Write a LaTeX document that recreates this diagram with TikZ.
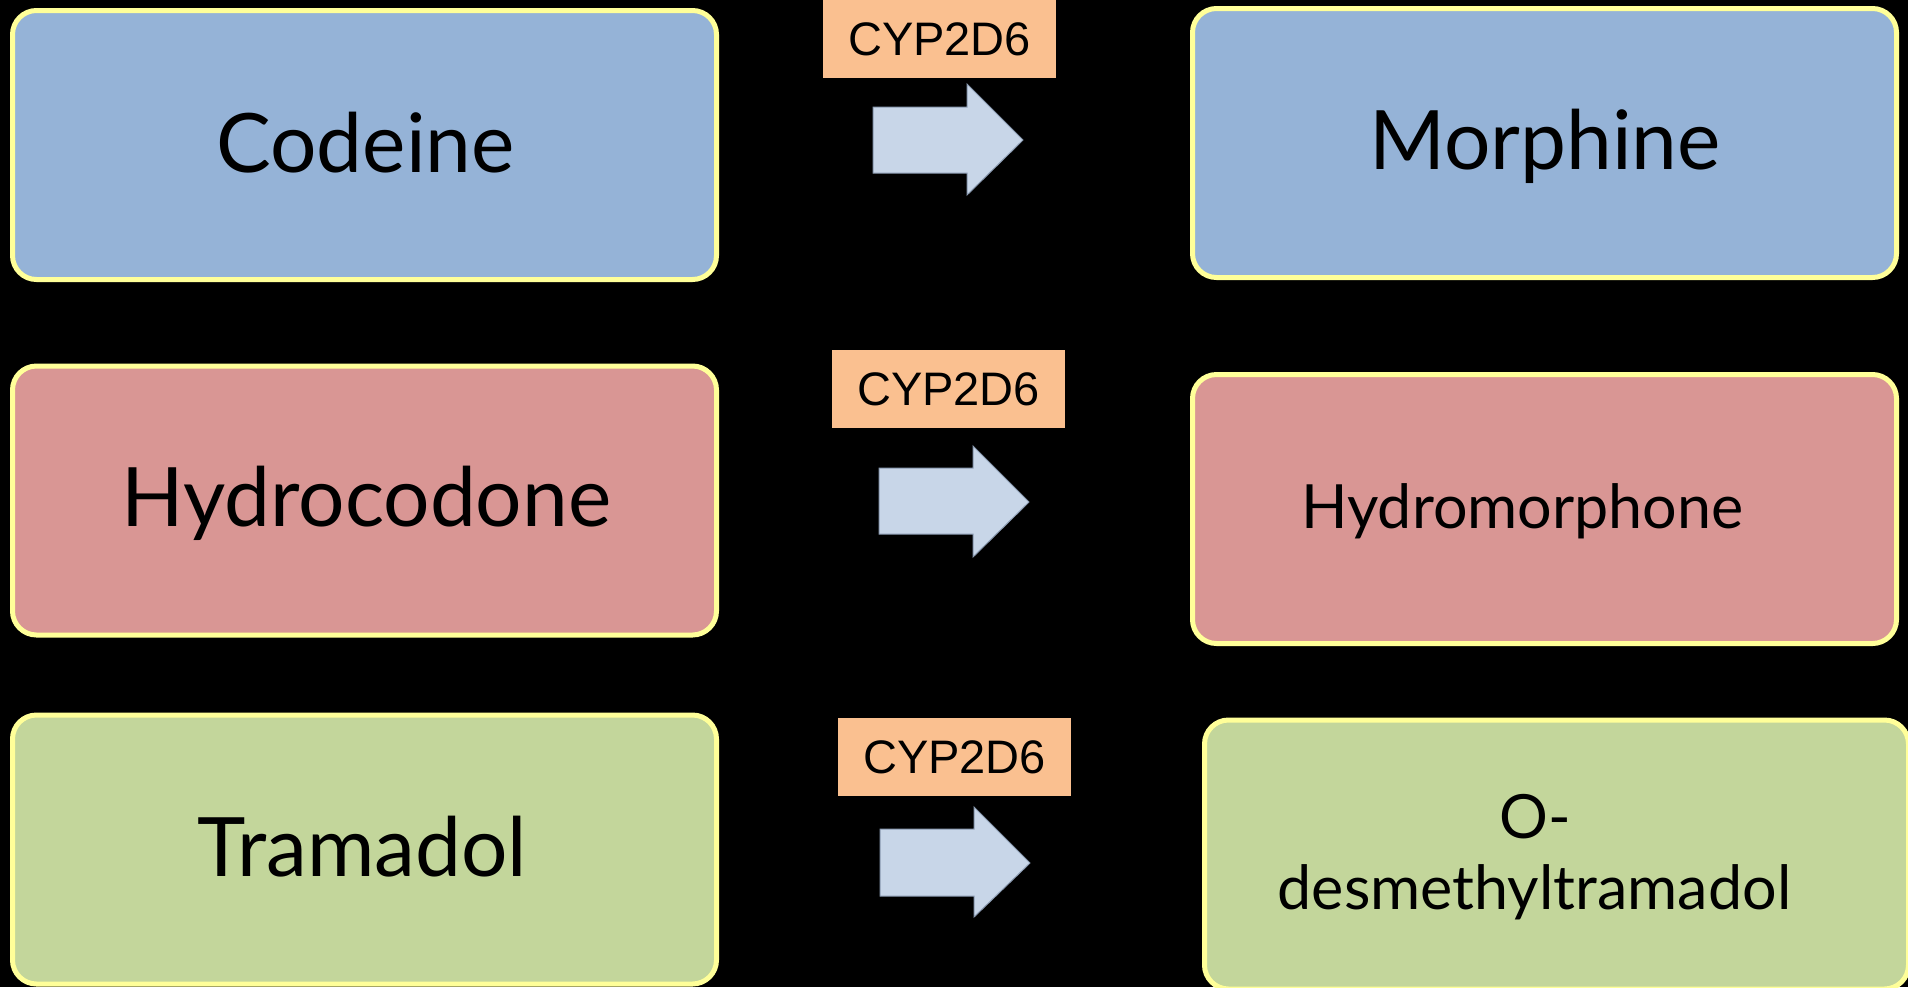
\documentclass[tikz,border=0pt]{standalone}
\usepackage{fontspec}
\setmainfont{Lato}
\newfontfamily\arialfont{Liberation Sans}
\usetikzlibrary{calc}
\definecolor{boxblue}{HTML}{95B3D7}
\definecolor{boxred}{HTML}{D99694}
\definecolor{boxgreen}{HTML}{C3D69B}
\definecolor{boxborder}{HTML}{FFFF99}
\definecolor{cyporange}{HTML}{FAC090}
\definecolor{arrowfill}{HTML}{C8D6E8}
\definecolor{arrowline}{HTML}{8A9AB0}
\newcommand{\bigfont}{\fontsize{41}{49}\selectfont}
\newcommand{\midfont}{\fontsize{30.5}{35.5}\selectfont}
\newcommand{\cypfont}{\arialfont\fontsize{23.5}{28}\selectfont}
\begin{document}
\begin{tikzpicture}[x=0.5pt,y=-0.5pt,
  drugbox/.style={draw=boxborder, line width=2.5pt, rounded corners=12pt,
    minimum width=352pt, minimum height=134.5pt, inner sep=0pt},
  druglabel/.style={anchor=base, inner sep=0pt, text=black},
  cypbox/.style={fill=cyporange, minimum width=116.5pt, minimum height=39pt,
    inner sep=0pt, font=\cypfont, text height=16.8pt, text depth=0pt},
  blockarrow/.style={fill=arrowfill, draw=arrowline, line width=0.5pt}]
\useasboundingbox (0,0) rectangle (1908,987);
\clip (0,0) rectangle (1908,987);
\fill[black] (0,0) rectangle (1908,987);

% source boxes
\node[drugbox, fill=boxblue]  (codeine)     at (364.5,145)   {};
\node[drugbox, fill=boxred]   (hydrocodone) at (364.5,500.5) {};
\node[drugbox, fill=boxgreen] (tramadol)    at (364.5,849.5) {};
% product boxes
\node[drugbox, fill=boxblue]  (morphine)    at (1544.5,143)  {};
\node[drugbox, fill=boxred]   (hydromorph)  at (1544.5,509)  {};
\node[drugbox, fill=boxgreen] (odesmethyl)  at (1556.5,854.5) {};

% labels
\node[druglabel, font=\bigfont] (codeineT)     at (365.5,172)  {Codeine};
\node[druglabel, font=\bigfont] (hydrocodoneT) at (366.5,526)  {Hydrocodone};
\node[druglabel, font=\bigfont] (tramadolT)    at (362.5,876)  {Tramadol};
\node[druglabel, font=\bigfont] (morphineT)    at (1545,169)   {Morphine};
\node[druglabel, font=\midfont] (hydromorphT)  at (1522.5,528) {Hydromorphone};
\node[druglabel, font=\midfont] (odesT1)       at (1535.5,838) {O-};
\node[druglabel, font=\midfont] (odesT2)       at (1534.5,909) {desmethyltramadol};

% enzyme labels
\node[cypbox] (cyp1) at (939.5,38.5) {CYP2D6};
\node[cypbox] (cyp2) at (948.5,389)  {CYP2D6};
\node[cypbox] (cyp3) at (954.5,757)  {CYP2D6};

% block arrows
\draw[blockarrow] (873,107) -- (967,107) -- (967,84) -- (1023,140) -- (967,195) -- (967,173) -- (873,173) -- cycle;
\draw[blockarrow] (879,468) -- (973,468) -- (973,446) -- (1029,502) -- (973,557) -- (973,534) -- (879,534) -- cycle;
\draw[blockarrow] (880,829) -- (974,829) -- (974,807) -- (1030,863) -- (974,917) -- (974,896) -- (880,896) -- cycle;
\end{tikzpicture}
\end{document}
